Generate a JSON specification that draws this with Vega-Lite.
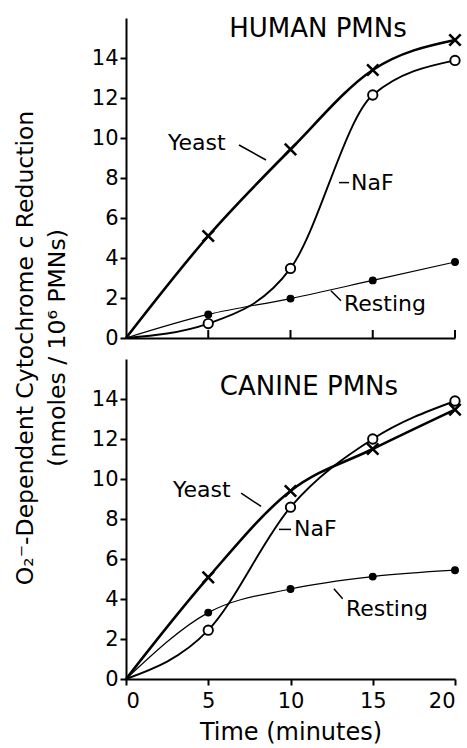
{
  "$schema": "https://vega.github.io/schema/vega-lite/v6.json",
  "padding": {"left": 13, "top": 16, "right": 0, "bottom": 2},
  "background": "white",
  "config": {
    "view": {"stroke": null},
    "font": "DejaVu Sans",
    "axis": {"domainColor": "black", "domainWidth": 2, "tickColor": "black", "tickWidth": 2, "labelColor": "black", "titleColor": "black", "grid": false, "labelFont": "DejaVu Sans", "titleFont": "DejaVu Sans", "titleFontWeight": "normal"}
  },
  "title": {
    "text": ["O₂⁻-Dependent Cytochrome c Reduction", "(nmoles / 10⁶ PMNs)"],
    "orient": "left",
    "anchor": "middle",
    "fontSize": 23.5,
    "fontWeight": "normal",
    "font": "DejaVu Sans",
    "color": "black",
    "lineHeight": 32,
    "offset": 22,
    "dx": 32
  },
  "datasets": {
    "curves": [
      {"panel": "Human", "series": "Yeast", "t": 0, "v": 0},
      {"panel": "Human", "series": "Yeast", "t": 5, "v": 5.1},
      {"panel": "Human", "series": "Yeast", "t": 10, "v": 9.43},
      {"panel": "Human", "series": "Yeast", "t": 15, "v": 13.4},
      {"panel": "Human", "series": "Yeast", "t": 20, "v": 14.9},
      {"panel": "Human", "series": "NaF", "t": 0, "v": 0},
      {"panel": "Human", "series": "NaF", "t": 5, "v": 0.72},
      {"panel": "Human", "series": "NaF", "t": 10, "v": 3.48},
      {"panel": "Human", "series": "NaF", "t": 15, "v": 12.15},
      {"panel": "Human", "series": "NaF", "t": 20, "v": 13.88},
      {"panel": "Human", "series": "Resting", "t": 0, "v": 0},
      {"panel": "Human", "series": "Resting", "t": 5, "v": 1.18},
      {"panel": "Human", "series": "Resting", "t": 10, "v": 1.97},
      {"panel": "Human", "series": "Resting", "t": 15, "v": 2.88},
      {"panel": "Human", "series": "Resting", "t": 20, "v": 3.8},
      {"panel": "Canine", "series": "Yeast", "t": 0, "v": 0},
      {"panel": "Canine", "series": "Yeast", "t": 5, "v": 5.08},
      {"panel": "Canine", "series": "Yeast", "t": 10, "v": 9.4},
      {"panel": "Canine", "series": "Yeast", "t": 15, "v": 11.5},
      {"panel": "Canine", "series": "Yeast", "t": 20, "v": 13.47},
      {"panel": "Canine", "series": "NaF", "t": 0, "v": 0},
      {"panel": "Canine", "series": "NaF", "t": 5, "v": 2.44},
      {"panel": "Canine", "series": "NaF", "t": 10, "v": 8.59},
      {"panel": "Canine", "series": "NaF", "t": 15, "v": 12.0},
      {"panel": "Canine", "series": "NaF", "t": 20, "v": 13.9},
      {"panel": "Canine", "series": "Resting", "t": 0, "v": 0},
      {"panel": "Canine", "series": "Resting", "t": 5, "v": 3.32},
      {"panel": "Canine", "series": "Resting", "t": 10, "v": 4.5},
      {"panel": "Canine", "series": "Resting", "t": 15, "v": 5.12},
      {"panel": "Canine", "series": "Resting", "t": 20, "v": 5.44}
    ],
    "labels": [
      {"panel": "Human", "text": "Yeast", "t": 2.55, "v": 9.75},
      {"panel": "Human", "text": "NaF", "t": 13.68, "v": 7.77},
      {"panel": "Human", "text": "Resting", "t": 13.25, "v": 1.7},
      {"panel": "Canine", "text": "Yeast", "t": 2.86, "v": 9.46},
      {"panel": "Canine", "text": "NaF", "t": 10.21, "v": 7.48},
      {"panel": "Canine", "text": "Resting", "t": 13.37, "v": 3.52}
    ],
    "leaders": [
      {"panel": "Human", "t": 6.87, "v": 9.65, "t2": 8.51, "v2": 8.9},
      {"panel": "Human", "t": 12.95, "v": 7.77, "t2": 13.56, "v2": 7.77},
      {"panel": "Human", "t": 12.46, "v": 2.36, "t2": 13.07, "v2": 1.86},
      {"panel": "Canine", "t": 7.0, "v": 9.29, "t2": 8.21, "v2": 8.63},
      {"panel": "Canine", "t": 9.3, "v": 7.48, "t2": 10.03, "v2": 7.48},
      {"panel": "Canine", "t": 12.64, "v": 4.51, "t2": 13.17, "v2": 4.01}
    ],
    "ticks": [
      {"t": 5, "v": 0, "v2": 0.4},
      {"t": 10, "v": 0, "v2": 0.4},
      {"t": 15, "v": 0, "v2": 0.4},
      {"t": 20, "v": 0, "v2": 0.4}
    ],
    "titles": [
      {"panel": "Human", "text": "HUMAN  PMNs", "t": 11.67, "v": 15.45},
      {"panel": "Canine", "text": "CANINE  PMNs", "t": 11.12, "v": 14.58}
    ]
  },
  "spacing": 11,
  "vconcat": [
    {
      "width": 329,
      "height": 320,
      "layer": [
        {
          "data": {"name": "curves"},
          "transform": [{"filter": "datum.panel === 'Human'"}],
          "mark": {"type": "line", "interpolate": "monotone", "color": "black"},
          "encoding": {
            "x": {"field": "t", "type": "quantitative", "scale": {"domain": [0, 20]}, "axis": {"values": [5, 10, 15, 20], "labels": false, "ticks": false, "title": null}},
            "y": {"field": "v", "type": "quantitative", "scale": {"domain": [0, 16]}, "axis": {"values": [0, 2, 4, 6, 8, 10, 12, 14], "tickSize": 6, "labelFontSize": 21, "labelPadding": 2, "title": null}},
            "detail": {"field": "series"},
            "strokeWidth": {"field": "series", "type": "nominal", "scale": {"domain": ["Yeast", "NaF", "Resting"], "range": [2.6, 1.2, 1.8]}, "legend": null}
          }
        },
        {
          "data": {"name": "ticks"},
          "mark": {"type": "rule", "color": "black", "strokeWidth": 2},
          "encoding": {
            "x": {"field": "t", "type": "quantitative"},
            "y": {"field": "v", "type": "quantitative"},
            "y2": {"field": "v2"}
          }
        },
        {
          "data": {"name": "curves"},
          "transform": [{"filter": "datum.panel === 'Human' && datum.t > 0"}],
          "mark": {"type": "point", "filled": true, "stroke": "black", "opacity": 1},
          "encoding": {
            "x": {"field": "t", "type": "quantitative"},
            "y": {"field": "v", "type": "quantitative"},
            "shape": {"field": "series", "type": "nominal", "scale": {"domain": ["Yeast", "NaF", "Resting"], "range": ["M-1,-1L1,1M-1,1L1,-1", "circle", "circle"]}, "legend": null},
            "fill": {"field": "series", "type": "nominal", "scale": {"domain": ["Yeast", "NaF", "Resting"], "range": ["black", "white", "black"]}, "legend": null},
            "size": {"field": "series", "type": "nominal", "scale": {"domain": ["Yeast", "NaF", "Resting"], "range": [130, 45, 60]}, "legend": null},
            "strokeWidth": {"field": "series", "type": "nominal", "scale": {"domain": ["Yeast", "NaF", "Resting"], "range": [2.2, 1.3, 1]}, "legend": null}
          }
        },
        {
          "data": {"name": "leaders"},
          "transform": [{"filter": "datum.panel === 'Human'"}],
          "mark": {"type": "rule", "color": "black", "strokeWidth": 1.5},
          "encoding": {
            "x": {"field": "t", "type": "quantitative"},
            "y": {"field": "v", "type": "quantitative"},
            "x2": {"field": "t2"},
            "y2": {"field": "v2"}
          }
        },
        {
          "data": {"name": "labels"},
          "transform": [{"filter": "datum.panel === 'Human'"}],
          "mark": {"type": "text", "fontSize": 22, "color": "black", "baseline": "middle", "align": "left"},
          "encoding": {
            "x": {"field": "t", "type": "quantitative"},
            "y": {"field": "v", "type": "quantitative"},
            "text": {"field": "text"}
          }
        },
        {
          "data": {"name": "titles"},
          "transform": [{"filter": "datum.panel === 'Human'"}],
          "mark": {"type": "text", "fontSize": 26, "color": "black", "baseline": "middle", "align": "center"},
          "encoding": {
            "x": {"field": "t", "type": "quantitative"},
            "y": {"field": "v", "type": "quantitative"},
            "text": {"field": "text"}
          }
        }
      ]
    },
    {
      "width": 329,
      "height": 320,
      "layer": [
        {
          "data": {"name": "curves"},
          "transform": [{"filter": "datum.panel === 'Canine'"}],
          "mark": {"type": "line", "interpolate": "monotone", "color": "black"},
          "encoding": {
            "x": {"field": "t", "type": "quantitative", "scale": {"domain": [0, 20]}, "axis": {"values": [0, 5, 10, 15, 20], "tickSize": 6, "labelFontSize": 21, "labelPadding": 5, "title": "Time  (minutes)", "titleFontSize": 24, "titlePadding": 9}},
            "y": {"field": "v", "type": "quantitative", "scale": {"domain": [0, 16]}, "axis": {"values": [0, 2, 4, 6, 8, 10, 12, 14], "tickSize": 6, "labelFontSize": 21, "labelPadding": 2, "title": null}},
            "detail": {"field": "series"},
            "strokeWidth": {"field": "series", "type": "nominal", "scale": {"domain": ["Yeast", "NaF", "Resting"], "range": [2.6, 1.2, 1.8]}, "legend": null}
          }
        },
        {
          "data": {"name": "curves"},
          "transform": [{"filter": "datum.panel === 'Canine' && datum.t > 0"}],
          "mark": {"type": "point", "filled": true, "stroke": "black", "opacity": 1},
          "encoding": {
            "x": {"field": "t", "type": "quantitative"},
            "y": {"field": "v", "type": "quantitative"},
            "shape": {"field": "series", "type": "nominal", "scale": {"domain": ["Yeast", "NaF", "Resting"], "range": ["M-1,-1L1,1M-1,1L1,-1", "circle", "circle"]}, "legend": null},
            "fill": {"field": "series", "type": "nominal", "scale": {"domain": ["Yeast", "NaF", "Resting"], "range": ["black", "white", "black"]}, "legend": null},
            "size": {"field": "series", "type": "nominal", "scale": {"domain": ["Yeast", "NaF", "Resting"], "range": [130, 45, 60]}, "legend": null},
            "strokeWidth": {"field": "series", "type": "nominal", "scale": {"domain": ["Yeast", "NaF", "Resting"], "range": [2.2, 1.3, 1]}, "legend": null}
          }
        },
        {
          "data": {"name": "leaders"},
          "transform": [{"filter": "datum.panel === 'Canine'"}],
          "mark": {"type": "rule", "color": "black", "strokeWidth": 1.5},
          "encoding": {
            "x": {"field": "t", "type": "quantitative"},
            "y": {"field": "v", "type": "quantitative"},
            "x2": {"field": "t2"},
            "y2": {"field": "v2"}
          }
        },
        {
          "data": {"name": "labels"},
          "transform": [{"filter": "datum.panel === 'Canine'"}],
          "mark": {"type": "text", "fontSize": 22, "color": "black", "baseline": "middle", "align": "left"},
          "encoding": {
            "x": {"field": "t", "type": "quantitative"},
            "y": {"field": "v", "type": "quantitative"},
            "text": {"field": "text"}
          }
        },
        {
          "data": {"name": "titles"},
          "transform": [{"filter": "datum.panel === 'Canine'"}],
          "mark": {"type": "text", "fontSize": 26, "color": "black", "baseline": "middle", "align": "center"},
          "encoding": {
            "x": {"field": "t", "type": "quantitative"},
            "y": {"field": "v", "type": "quantitative"},
            "text": {"field": "text"}
          }
        }
      ]
    }
  ]
}
